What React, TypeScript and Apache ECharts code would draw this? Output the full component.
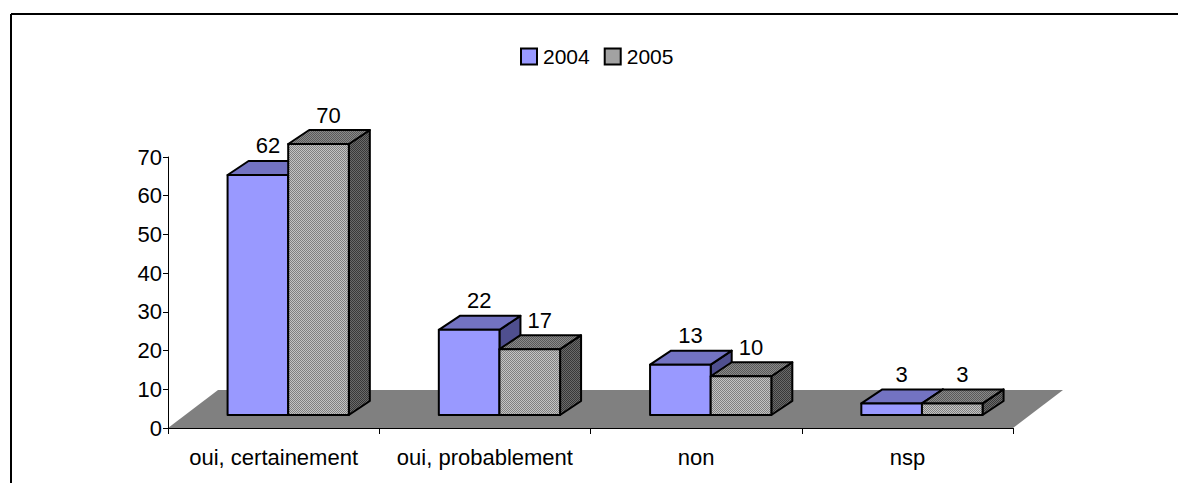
import React, { useEffect, useRef } from "react";
import * as echarts from "echarts";

const categories = ["oui, certainement", "oui, probablement", "non", "nsp"];
const seriesNames = ["2004", "2005"];
const values2004 = [62, 22, 13, 3];
const values2005 = [70, 17, 10, 3];
const yMin = 0;
const yMax = 70;
const yInterval = 10;

const FONT = "'Liberation Sans Narrow', 'Liberation Sans', Arial, sans-serif";
const FS = 22;

function checker(a: string, b: string) {
  const c = document.createElement("canvas");
  c.width = 2;
  c.height = 2;
  const ctx = c.getContext("2d")!;
  ctx.fillStyle = a;
  ctx.fillRect(0, 0, 2, 2);
  ctx.fillStyle = b;
  ctx.fillRect(0, 0, 1, 1);
  ctx.fillRect(1, 1, 1, 1);
  return { image: c, repeat: "repeat" } as any;
}

export default function App() {
  const ref = useRef<HTMLDivElement>(null);

  useEffect(() => {
    if (!ref.current) return;
    const chart = echarts.init(ref.current, undefined, { renderer: "svg" });

    const faces2004 = { front: "#9999ff", top: "#7373c2", side: "#4f4f8f" };
    const faces2005 = {
      front: checker("#c4c4c4", "#808080"),
      top: checker("#8a8a8a", "#595959"),
      side: checker("#6a6a6a", "#383838"),
    };

    const makeBar = (sIdx: number, faces: any) => (params: any, api: any) => {
      const ci = api.value(0);
      const v = api.value(1);
      const base = api.coord([ci, 0]);
      const topPt = api.coord([ci, v]);
      const catW = api.size([1, 0])[0];
      const bw = catW * 0.287;
      const cx = base[0] + catW * 0.069;
      const x0 = cx - bw + sIdx * bw;
      const yb = base[1] - 13;
      const h = base[1] - topPt[1];
      const yt = yb - h;
      const dx = 21;
      const dy = -14;
      const stroke = { stroke: "#000", lineWidth: 2, lineJoin: "round" };
      return {
        type: "group",
        children: [
          {
            type: "polygon",
            shape: { points: [[x0 + bw, yt], [x0 + bw + dx, yt + dy], [x0 + bw + dx, yb + dy], [x0 + bw, yb]] },
            style: { fill: faces.side, ...stroke },
          },
          {
            type: "polygon",
            shape: { points: [[x0, yt], [x0 + dx, yt + dy], [x0 + bw + dx, yt + dy], [x0 + bw, yt]] },
            style: { fill: faces.top, ...stroke },
          },
          {
            type: "rect",
            shape: { x: x0, y: yt, width: bw, height: h },
            style: { fill: faces.front, ...stroke },
          },
          {
            type: "text",
            x: x0 + bw / 2 + 10,
            y: yt - 29,
            style: {
              text: String(v),
              fill: "#000",
              font: `${FS}px ${FONT}`,
              align: "center",
              verticalAlign: "middle",
            },
          },
        ],
      };
    };

    const renderFloor = (params: any, api: any) => {
      const base = api.coord([0, 0]);
      const catW = api.size([1, 0])[0];
      const left = base[0] - catW / 2;
      const right = left + catW * categories.length;
      const y = base[1];
      const dx = 50;
      const dy = -38;
      return {
        type: "polygon",
        shape: { points: [[left, y], [right, y], [right + dx, y + dy], [left + dx, y + dy]] },
        style: { fill: "#808080" },
      };
    };

    chart.setOption({
      animation: false,
      backgroundColor: "#fff",
      textStyle: { fontFamily: FONT },
      graphic: [
        { type: "line", shape: { x1: 11, y1: 14, x2: 1178, y2: 14 }, style: { stroke: "#000", lineWidth: 2 } },
        { type: "line", shape: { x1: 11, y1: 14, x2: 11, y2: 483 }, style: { stroke: "#000", lineWidth: 2 } },
      ],
      legend: {
        data: seriesNames,
        left: 515,
        top: 41,
        icon: "rect",
        itemWidth: 16,
        itemHeight: 16,
        itemGap: 14,
        textStyle: { color: "#000", fontSize: 21, fontFamily: FONT, padding: [0, 0, 0, 1] },
        itemStyle: { borderColor: "#000", borderWidth: 2 },
      },
      grid: { left: 168, right: 165, top: 157, bottom: 55 },
      xAxis: {
        type: "category",
        data: categories,
        boundaryGap: true,
        z: 5,
        axisLine: { lineStyle: { color: "#000", width: 1 } },
        axisTick: { show: true, length: 6, lineStyle: { color: "#000" } },
        axisLabel: { color: "#000", fontSize: FS, fontFamily: FONT, margin: 18, interval: 0 },
        splitLine: { show: false },
      },
      yAxis: {
        type: "value",
        min: yMin,
        max: yMax,
        interval: yInterval,
        z: 5,
        axisLine: { show: true, lineStyle: { color: "#000", width: 1 } },
        axisTick: { show: true, length: 5, lineStyle: { color: "#000" } },
        axisLabel: { color: "#000", fontSize: FS, fontFamily: FONT, margin: 6 },
        splitLine: { show: false },
      },
      series: [
        {
          type: "custom",
          name: "floor",
          z: 1,
          silent: true,
          renderItem: renderFloor,
          encode: { x: 0, y: 1 },
          data: [[0, 0]],
        },
        {
          type: "custom",
          name: seriesNames[0],
          z: 2,
          itemStyle: { color: faces2004.front },
          renderItem: makeBar(0, faces2004),
          encode: { x: 0, y: 1 },
          data: values2004.map((v, i) => [i, v]),
        },
        {
          type: "custom",
          name: seriesNames[1],
          z: 3,
          itemStyle: { color: faces2005.front },
          renderItem: makeBar(1, faces2005),
          encode: { x: 0, y: 1 },
          data: values2005.map((v, i) => [i, v]),
        },
      ],
    });

    return () => chart.dispose();
  }, []);

  return (
    <div
      ref={ref}
      style={{ position: "absolute", left: 0, top: 0, width: 1178, height: 483 }}
    />
  );
}
